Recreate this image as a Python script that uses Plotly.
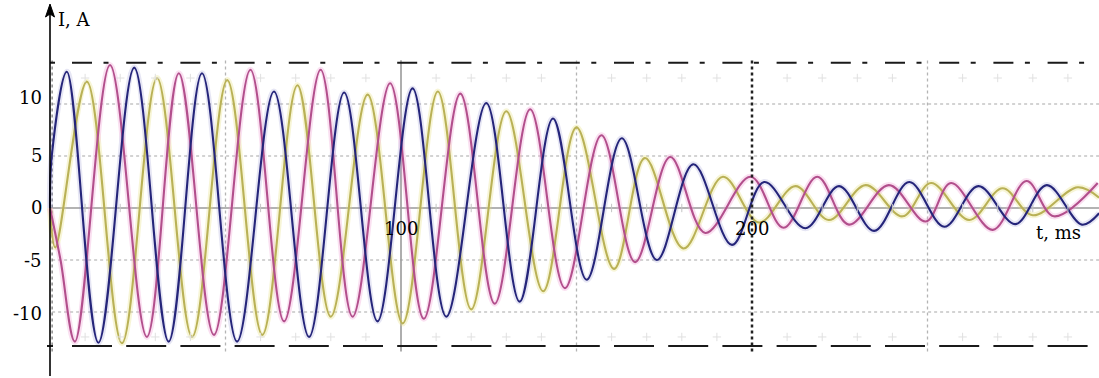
import plotly.graph_objects as go

# ---------------- data ----------------
# phase A (dark blue): times of extrema (ms) and values (A)
t_a = [0, 0.5, 4.8, 13.8, 24.0, 33.8, 43.3, 53.3, 63.8, 73.8, 83.8, 93.3, 103.3,
       112.9, 124.3, 133.8, 143.3, 152.9, 162.9, 172.9, 183.3, 194.3, 203.5,
       215.2, 224.8, 234.8, 244.8, 254.8, 264.5, 275.0, 284.0, 294.0, 298.9]
i_a = [0, 5.0, 13.1, -12.95, 13.5, -12.85, 12.95, -12.85, 11.2, -12.4, 11.1, -10.9, 11.5,
       -10.45, 10.1, -9.0, 8.6, -6.9, 6.7, -5.0, 4.2, -3.55, 2.5,
       -1.95, 2.1, -2.2, 2.5, -1.8, 2.1, -1.55, 2.2, -1.6, -0.5]

# phase B (magenta)
t_b = [0, 3.0, 7.1, 17.1, 27.6, 36.7, 46.7, 57.1, 66.7, 77.1, 86.2, 96.9, 106.5,
       116.9, 126.7, 136.8, 146.7, 157.1, 166.7, 176.7, 186.7, 199.6, 209.0,
       218.6, 227.6, 239.0, 249.5, 256.7, 268.6, 278.2, 286.0, 298.5]
i_b = [0, -5.0, -12.85, 13.75, -12.4, 12.95, -12.2, 13.3, -10.9, 13.3, -10.45, 12.0, -10.65,
       11.0, -9.2, 9.5, -7.7, 7.0, -5.2, 4.9, -2.4, 3.0, -1.9,
       3.0, -1.6, 2.2, -1.3, 2.4, -2.1, 2.6, -0.8, 2.4]

# phase C (olive yellow)
t_c = [0, 1.5, 10.5, 20.5, 30.5, 40.5, 50.5, 60.5, 70.5, 80.0, 90.5, 100.5, 110.5,
       120.0, 130.0, 140.5, 150.0, 160.7, 169.5, 180.5, 191.7, 202.0, 212.4,
       221.9, 232.4, 242.9, 251.0, 261.9, 271.4, 280.0, 292.8, 298.9]
i_c = [0, -3.8, 12.15, -13.0, 12.5, -12.4, 12.3, -12.2, 11.8, -10.45, 10.9, -11.1, 11.2,
       -9.75, 9.3, -8.0, 7.75, -5.85, 4.8, -3.9, 3.0, -1.4, 2.1,
       -1.15, 2.2, -0.8, 2.4, -1.15, 1.9, -0.7, 2.0, 1.0]

y_tick_vals = [10, 5, 0, -5, -10]
y_tick_text = ["10", "5", "0", "-5", "-10"]
x_tick_vals = [100, 200]
x_tick_text = ["100", "200"]
upper_limit = 13.97
lower_limit = -13.27

# ---------------- styling ----------------
PX_PER_MS = 3.51
PX_PER_A = 10.4
X0_PX = 50.0
Y0_PX = 208.0
W, H = 1099, 378
x_range = [-X0_PX / PX_PER_MS, (W - X0_PX) / PX_PER_MS]
y_range = [-(H - Y0_PX) / PX_PER_A, Y0_PX / PX_PER_A]

def tx(px):
    return (px - X0_PX) / PX_PER_MS

def iy(py):
    return (Y0_PX - py) / PX_PER_A

FONT = "DejaVu Serif"
FS = 18

series = [
    (t_c, i_c, "#b9b156", "rgba(228,222,120,0.30)"),
    (t_b, i_b, "#b24f8c", "rgba(238,160,210,0.32)"),
    (t_a, i_a, "#25257a", "rgba(130,130,200,0.20)"),
]

fig = go.Figure()
for tt, ii, col, halo in series:
    fig.add_trace(go.Scatter(x=tt, y=ii, mode="lines",
                             line=dict(color=halo, width=6, shape="spline", smoothing=1.0),
                             hoverinfo="skip", showlegend=False))
for tt, ii, col, halo in series:
    fig.add_trace(go.Scatter(x=tt, y=ii, mode="lines",
                             line=dict(color=col, width=2.1, shape="spline", smoothing=1.0),
                             showlegend=False))

# faint minor grid crosses
minor_t = [v for v in range(10, 300, 10) if v % 50 != 0]
fig.add_trace(go.Scatter(x=minor_t + minor_t, y=[12.5] * len(minor_t) + [-12.4] * len(minor_t),
                         mode="markers", marker=dict(symbol="cross-thin", size=6,
                         line=dict(color="#e0e0e0", width=1)),
                         hoverinfo="skip", showlegend=False))
fig.add_trace(go.Scatter(x=minor_t, y=[0] * len(minor_t), mode="markers",
                         marker=dict(symbol="line-ns", size=6, line=dict(color="#c4c4c4", width=1)),
                         hoverinfo="skip", showlegend=False))

shapes = []
t_end_grid = tx(W)
# horizontal grid lines
for v in [10, 5, -5, -10]:
    shapes.append(dict(type="line", xref="x", yref="y", x0=0.6, x1=t_end_grid, y0=v, y1=v,
                       line=dict(color="#a8a8a8", width=1.2, dash="dot"), layer="below"))
shapes.append(dict(type="line", xref="x", yref="y", x0=0, x1=t_end_grid, y0=0, y1=0,
                   line=dict(color="#9a9a9a", width=1.6), layer="below"))
# vertical grid lines
gtop, gbot = 14.2, -13.8
for v in [50, 150, 250]:
    shapes.append(dict(type="line", xref="x", yref="y", x0=v, x1=v, y0=gbot, y1=gtop,
                       line=dict(color="#b4b4b4", width=1.3, dash="dot"), layer="below"))
shapes.append(dict(type="line", xref="x", yref="y", x0=0.6, x1=0.6, y0=gbot, y1=gtop,
                   line=dict(color="#707070", width=1.2, dash="dot"), layer="below"))
shapes.append(dict(type="line", xref="x", yref="y", x0=100, x1=100, y0=gbot, y1=gtop,
                   line=dict(color="#9a9a9a", width=1.6), layer="below"))
shapes.append(dict(type="line", xref="x", yref="y", x0=200, x1=200, y0=gbot, y1=gtop,
                   line=dict(color="#222222", width=2.5, dash="dot"), layer="above"))
# limit lines
t_dash0 = tx(72)
t_dash1 = tx(1090)
shapes.append(dict(type="line", xref="x", yref="y", x0=t_dash0, x1=t_dash1,
                   y0=upper_limit, y1=upper_limit,
                   line=dict(color="#1a1a1a", width=2, dash="20px,11.5px,5px,17.7px")))
shapes.append(dict(type="line", xref="x", yref="y", x0=tx(50), x1=tx(55),
                   y0=upper_limit, y1=upper_limit, line=dict(color="#1a1a1a", width=2)))
shapes.append(dict(type="line", xref="x", yref="y", x0=t_dash0, x1=t_dash1,
                   y0=lower_limit, y1=lower_limit,
                   line=dict(color="#1a1a1a", width=2, dash="40px,14.2px")))
shapes.append(dict(type="line", xref="x", yref="y", x0=tx(47), x1=tx(53),
                   y0=lower_limit, y1=lower_limit, line=dict(color="#1a1a1a", width=2)))
# y axis with arrow
shapes.append(dict(type="line", xref="x", yref="y", x0=0, x1=0, y0=iy(376), y1=iy(12),
                   line=dict(color="black", width=1.6)))
ax_l, ax_r = tx(45.5), tx(54.5)
shapes.append(dict(type="path", xref="x", yref="y",
                   path=f"M {ax_l},{iy(17)} L 0,{iy(4)} L {ax_r},{iy(17)} L 0,{iy(14)} Z",
                   fillcolor="black", line=dict(color="black", width=1)))

annotations = []
y_shift_px = {10: 7, 5: 1, 0: 1, -5: 0, -10: -1}
for v, txt in zip(y_tick_vals, y_tick_text):
    annotations.append(dict(x=tx(44), y=v, xref="x", yref="y", text=txt, showarrow=False,
                            xanchor="right", yanchor="middle", yshift=y_shift_px[v],
                            font=dict(family=FONT, size=FS, color="black")))
for v, txt in zip(x_tick_vals, x_tick_text):
    annotations.append(dict(x=v, y=iy(228), xref="x", yref="y", text=txt, showarrow=False,
                            xanchor="center", yanchor="middle",
                            font=dict(family=FONT, size=FS, color="black")))
annotations.append(dict(x=tx(1034), y=iy(232), xref="x", yref="y", text="t, ms", showarrow=False,
                        xanchor="left", yanchor="middle",
                        font=dict(family=FONT, size=FS, color="black")))
annotations.append(dict(x=tx(56), y=iy(19), xref="x", yref="y", text="I, A", showarrow=False,
                        xanchor="left", yanchor="middle",
                        font=dict(family=FONT, size=FS, color="black")))

fig.update_layout(
    width=W, height=H, margin=dict(l=0, r=0, t=0, b=0),
    paper_bgcolor="white", plot_bgcolor="white",
    xaxis=dict(range=x_range, visible=False, fixedrange=True),
    yaxis=dict(range=y_range, visible=False, fixedrange=True),
    shapes=shapes, annotations=annotations, showlegend=False,
)
fig.write_html("out.html", config={"displayModeBar": False})
